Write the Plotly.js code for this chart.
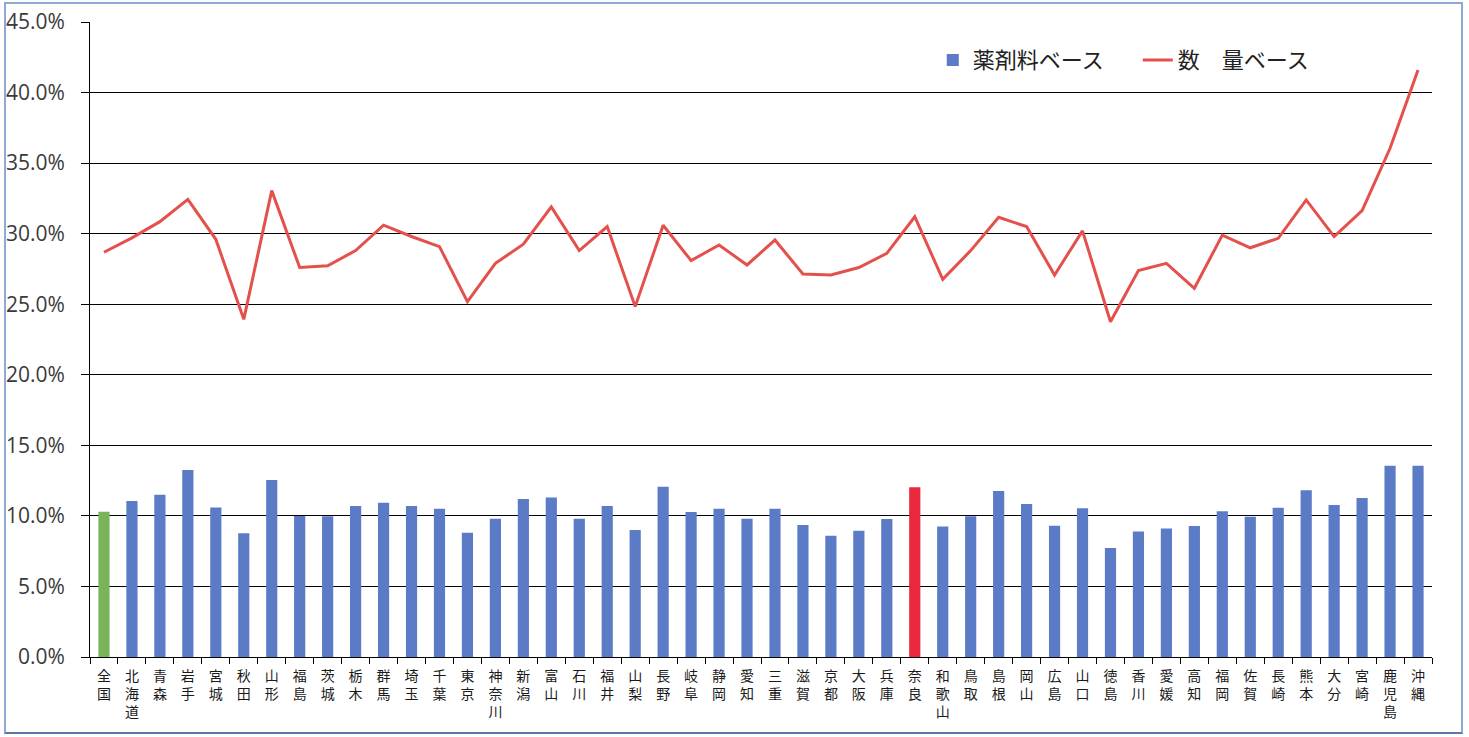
<!DOCTYPE html>
<html><head><meta charset="utf-8">
<script src="https://cdn.plot.ly/plotly-3.0.1.min.js"></script>
<style>
html,body{margin:0;padding:0;background:#fff;}
#chart{width:1469px;height:737px;}
#frame{position:absolute;left:4px;top:2px;width:1455px;height:728px;border:2px solid #8fa9d6;border-bottom-color:#5b77a8;pointer-events:none;}
</style>
</head><body><div id="chart"></div><div id="frame"></div>
<script>
const categories = ['全国','北海道','青森','岩手','宮城','秋田','山形','福島','茨城','栃木','群馬','埼玉','千葉','東京','神奈川','新潟','富山','石川','福井','山梨','長野','岐阜','静岡','愛知','三重','滋賀','京都','大阪','兵庫','奈良','和歌山','鳥取','島根','岡山','広島','山口','徳島','香川','愛媛','高知','福岡','佐賀','長崎','熊本','大分','宮崎','鹿児島','沖縄'];
const yakuzaiBase = [10.3,11.05,11.5,13.25,10.6,8.77,12.55,10.0,9.97,10.7,10.93,10.7,10.5,8.8,9.8,11.2,11.3,9.8,10.7,9.0,12.07,10.27,10.5,9.8,10.5,9.35,8.6,8.95,9.78,12.03,9.24,9.97,11.77,10.85,9.31,10.54,7.72,8.9,9.1,9.28,10.33,9.94,10.58,11.81,10.77,11.27,13.56,13.56];
const suryoBase = [28.68,29.7,30.85,32.43,29.6,23.93,33.05,27.6,27.73,28.8,30.6,29.8,29.08,25.18,27.9,29.25,31.9,28.8,30.5,24.83,30.6,28.09,29.2,27.78,29.55,27.14,27.07,27.6,28.6,31.2,26.77,28.8,31.16,30.5,27.07,30.2,23.76,27.38,27.9,26.13,29.9,29.0,29.67,32.39,29.79,31.63,36.05,41.6];
const seriesNames = ['薬剤料ベース','数　量ベース'];
const nationalLabel = '全国';
const highlightLabel = '奈良';
const yTicks = [0,5,10,15,20,25,30,35,40,45];

const BLUE = '#5b7bc6', GREEN = '#79b45a', RED = '#e8283c', LINE = '#e4504c';
const tickText = categories.map(c => c.split('').join('<br>'));
const pick = f => yakuzaiBase.map((v,i) => f(categories[i]) ? v : null);

const traces = [
  {type:'bar', name:seriesNames[0], x:categories, y:pick(c => c !== nationalLabel && c !== highlightLabel), marker:{color:BLUE}, width:0.4},
  {type:'bar', name:seriesNames[0], x:categories, y:pick(c => c === nationalLabel), marker:{color:GREEN}, width:0.4, showlegend:false},
  {type:'bar', name:seriesNames[0], x:categories, y:pick(c => c === highlightLabel), marker:{color:RED}, width:0.4, showlegend:false},
  {type:'scatter', mode:'lines', name:seriesNames[1], x:categories, y:suryoBase, line:{color:LINE, width:3}}
];

const layout = {
  width:1469, height:737,
  margin:{l:90, r:37, t:22, b:80},
  paper_bgcolor:'#ffffff', plot_bgcolor:'#ffffff',
  barmode:'overlay',
  showlegend:true,
  legend:{orientation:'h', x:0.628, y:0.94, xanchor:'left', yanchor:'middle',
          font:{family:'Noto Sans CJK JP', size:22, color:'#222'}, bgcolor:'rgba(0,0,0,0)',
          traceorder:'normal', entrywidth:160, entrywidthmode:'pixels'},
  xaxis:{type:'category', tickvals:categories, ticktext:tickText, tickson:'boundaries',
         ticks:'outside', ticklen:6, tickcolor:'#000', showline:true, linecolor:'#000', linewidth:1,
         showgrid:false, tickfont:{family:'Noto Sans CJK JP', size:14, color:'#1a1a1a'}, tickangle:0,
         ticklabelstandoff:6, range:[-0.5, categories.length-0.5]},
  yaxis:{range:[0,45], tickvals:yTicks, ticktext:yTicks.map(v => v.toFixed(1)+'%'),
         showgrid:true, gridcolor:'#000', gridwidth:1, zeroline:false,
         showline:true, linecolor:'#000', linewidth:1, ticks:'outside', ticklen:8, tickcolor:'#000',
         tickfont:{family:'Open Sans', size:21, color:'#3a3a3a'}, ticklabelstandoff:12}
};
Plotly.newPlot('chart', traces, layout, {displayModeBar:false, staticPlot:true});
</script>
</body></html>
